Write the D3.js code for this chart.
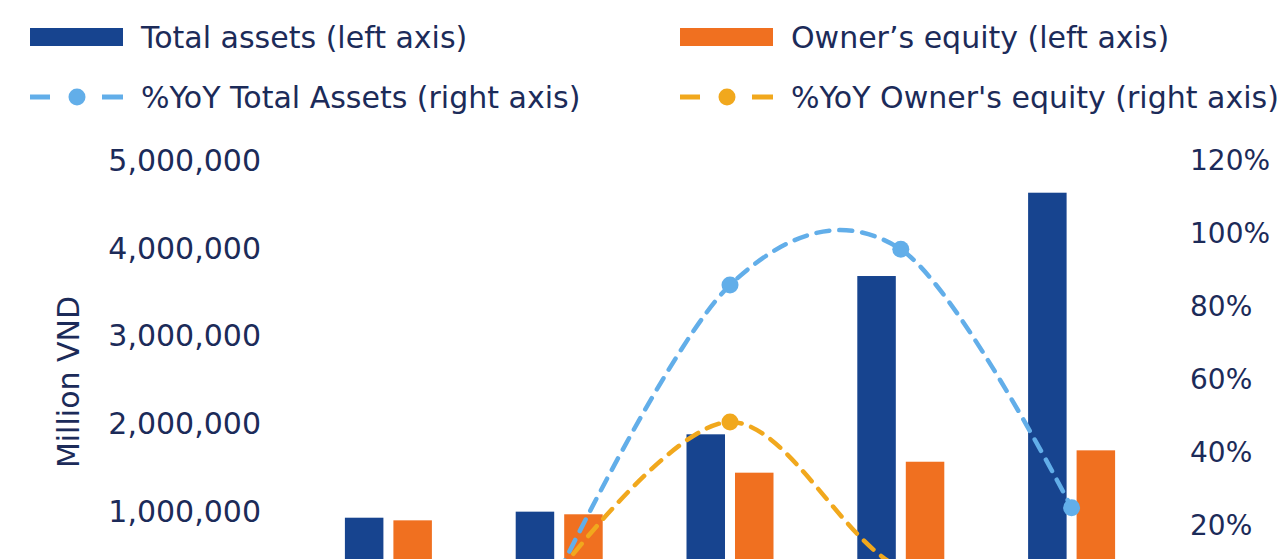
<!DOCTYPE html>
<html><head><meta charset="utf-8">
<script src="https://cdn.jsdelivr.net/npm/d3@7"></script>
<style>html,body{margin:0;padding:0;background:#fff;overflow:hidden}svg{display:block}</style>
</head><body><svg id="c" width="1281" height="559"></svg>
<script>
const categories = ["2018", "2019", "2020", "2021", "2022"];
const totalAssets = [928000, 997000, 1880000, 3687000, 4638000];
const ownersEquity = [898000, 967000, 1442000, 1567000, 1697000];
const yoyAssets = [null, 0.074, 0.86, 0.958, 0.25];
const yoyEquity = [null, 0.075, 0.485, 0.085, 0.083];
const leftTicks = [1000000, 2000000, 3000000, 4000000, 5000000];
const rightTicks = [0.2, 0.4, 0.6, 0.8, 1.0, 1.2];
const seriesNames = ["Total assets (left axis)", "Owner\u2019s equity (left axis)", "%YoY Total Assets (right axis)", "%YoY Owner's equity (right axis)"];

const C = {blue:"#17448f", orange:"#f07020", lblue:"#62aee9", gold:"#f1a81d", text:"#1c2b59"};
const FONT = "DejaVu Sans";
const svg = d3.select("#c");
const yBottom = 599, yTop = 161;

const x = d3.scaleBand().domain(categories).range([303, 1157]).padding(0);
const xs = d3.scaleBand().domain(["a","e"]).range([0, 87]).paddingInner(0.206).paddingOuter(0);
const yL = d3.scaleLinear().domain([0, 5000000]).range([yBottom, yTop]);
const yR = d3.scaleLinear().domain([0, 1.2]).range([yBottom, yTop]);
const cx = c => x(c) + x.bandwidth()/2;

// axes (labels only; category axis lies below the visible crop)
const axL = d3.axisLeft(yL).tickValues(leftTicks).tickFormat(d3.format(",")).tickSize(0).tickPadding(0);
const gL = svg.append("g").attr("transform","translate(261,0)").call(axL);
gL.select(".domain").remove();
gL.selectAll("text").attr("font-family",FONT).attr("font-size",30).attr("fill",C.text);

const axR = d3.axisRight(yR).tickValues(rightTicks).tickFormat(d3.format(".0%")).tickSize(0).tickPadding(0);
const gR = svg.append("g").attr("transform","translate(1190,0)").call(axR);
gR.select(".domain").remove();
gR.selectAll("text").attr("font-family",FONT).attr("font-size",28).attr("fill",C.text);

svg.append("text").attr("transform","translate(68,382) rotate(-90)")
  .attr("text-anchor","middle").attr("dy","0.35em")
  .attr("font-family",FONT).attr("font-size",30).attr("fill",C.text).text("Million VND");

// bars
const g = svg.append("g");
g.selectAll("rect.a").data(categories).join("rect").attr("class","a")
  .attr("x", c => cx(c) - 43.5 + xs("a")).attr("width", xs.bandwidth())
  .attr("y", (c,i) => yL(totalAssets[i])).attr("height", (c,i) => yBottom - yL(totalAssets[i]))
  .attr("fill", C.blue);
g.selectAll("rect.e").data(categories).join("rect").attr("class","e")
  .attr("x", c => cx(c) - 43.5 + xs("e")).attr("width", xs.bandwidth())
  .attr("y", (c,i) => yL(ownersEquity[i])).attr("height", (c,i) => yBottom - yL(ownersEquity[i]))
  .attr("fill", C.orange);

// lines
function drawLine(vals, color) {
  const pts = categories.map((c,i) => ({c, v: vals[i]})).filter(d => d.v != null);
  const line = d3.line().x(d => cx(d.c)).y(d => yR(d.v)).curve(d3.curveCatmullRom.alpha(0));
  svg.append("path").datum(pts).attr("d", line).attr("fill","none")
    .attr("stroke", color).attr("stroke-width", 4.5).attr("stroke-dasharray","13,10").attr("stroke-linecap","round");
  svg.selectAll(null).data(pts).join("circle").attr("cx", d => cx(d.c)).attr("cy", d => yR(d.v))
    .attr("r", 8.5).attr("fill", color);
}
drawLine(yoyAssets, C.lblue);
drawLine(yoyEquity, C.gold);

// legend
const leg = svg.append("g");
const legItems = [
  {x:30, y:37, type:"bar", color:C.blue, name:seriesNames[0]},
  {x:680, y:37, type:"bar", color:C.orange, name:seriesNames[1]},
  {x:30, y:97, type:"line", color:C.lblue, name:seriesNames[2]},
  {x:680, y:97, type:"line", color:C.gold, name:seriesNames[3]}
];
legItems.forEach(it => {
  const gi = leg.append("g").attr("transform", `translate(${it.x},${it.y})`);
  if (it.type === "bar") {
    gi.append("rect").attr("x",0).attr("y",-9).attr("width",93).attr("height",18).attr("fill",it.color);
  } else {
    gi.append("line").attr("x1",0).attr("x2",20).attr("y1",0).attr("y2",0).attr("stroke",it.color).attr("stroke-width",5);
    gi.append("line").attr("x1",72).attr("x2",93).attr("y1",0).attr("y2",0).attr("stroke",it.color).attr("stroke-width",5);
    gi.append("circle").attr("cx",47).attr("cy",0).attr("r",8.5).attr("fill",it.color);
  }
  gi.append("text").attr("x",111).attr("y",0).attr("dy","0.35em")
    .attr("font-family",FONT).attr("font-size",30).attr("fill",C.text).text(it.name);
});
</script></body></html>
